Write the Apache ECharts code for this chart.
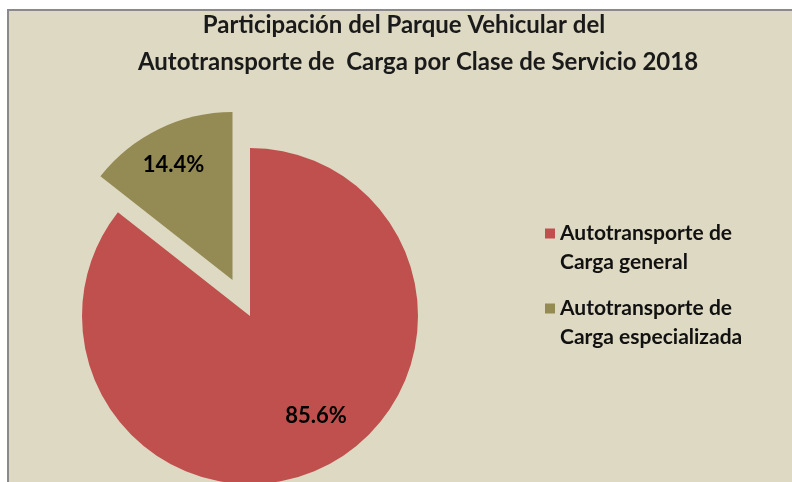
<!DOCTYPE html>
<html>
<head>
<meta charset="utf-8">
<script src="https://cdn.jsdelivr.net/npm/echarts@6/dist/echarts.min.js"></script>
<style>
  html, body { margin: 0; padding: 0; background: #ffffff; }
  #chart { width: 792px; height: 482px; }
</style>
</head>
<body>
<div id="chart"></div>
<script>
/**
 * Chart data
 */
const titleLines = ['Participación del Parque Vehicular del', 'Autotransporte de  Carga por Clase de Servicio 2018'];
const categories = ['Autotransporte de\nCarga general', 'Autotransporte de\nCarga especializada'];
const shares = [85.6, 14.4];
const sliceColors = ['#C0504D', '#948A54'];
// label nudges so they sit where the original puts them
const labelOffsets = [[28, 22], [-21, -37]];

let chartInstance = echarts.init(document.getElementById('chart'));

let pieData = categories.map(function (name, i) {
    let lbl = { offset: labelOffsets[i] };
    return {
        name: name,
        value: shares[i],
        selected: i === 1,
        itemStyle: { color: sliceColors[i] },
        label: lbl,
        select: { label: lbl }
    };
});

let titleStyle = {
    fontFamily: 'Lato',
    fontWeight: 'bold',
    fontSize: 24,
    color: '#1a1a1a'
};

let chartOption = {
    backgroundColor: '#ffffff',
    animation: false,
    graphic: [{
        type: 'rect',
        z: 0,
        shape: { x: 8, y: 10, width: 800, height: 490 },
        style: { fill: '#DDD9C3', stroke: '#8A8A8A', lineWidth: 2 }
    }],
    // one title per line, Excel centres each line on its own
    title: [{
        text: titleLines[0],
        left: 399,
        top: 8,
        textAlign: 'center',
        textStyle: titleStyle
    }, {
        text: titleLines[1],
        left: 413,
        top: 45,
        textAlign: 'center',
        textStyle: titleStyle
    }],
    legend: {
        orient: 'vertical',
        left: 540,
        top: 185,
        icon: 'rect',
        itemWidth: 10,
        itemHeight: 10,
        itemGap: -12,
        selectedMode: false,
        // leading empty line keeps the marker level with the first text line
        formatter: function (name) { return '\n' + name; },
        textStyle: {
            fontFamily: 'Lato',
            fontWeight: 'bold',
            fontSize: 21,
            lineHeight: 29,
            color: '#111111'
        }
    },
    series: [{
        type: 'pie',
        center: [250, 316],
        radius: 168,
        startAngle: 90,
        clockwise: true,
        selectedMode: 'single',
        selectedOffset: 40,
        emphasis: { disabled: true },
        label: {
            position: 'inside',
            formatter: function (p) { return p.value.toFixed(1) + '%'; },
            fontFamily: 'Lato',
            fontWeight: 'bold',
            fontSize: 22,
            color: '#000000'
        },
        labelLine: { show: false },
        data: pieData
    }]
};

chartInstance.setOption(chartOption);
</script>
</body>
</html>
